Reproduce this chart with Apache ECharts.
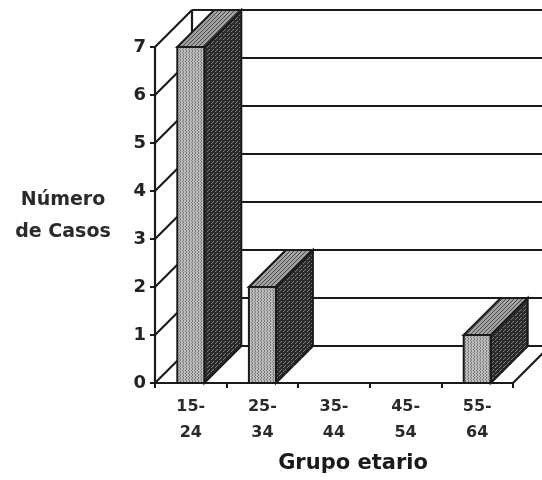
<!DOCTYPE html>
<html>
<head>
<meta charset="utf-8">
<script src="https://cdn.jsdelivr.net/npm/echarts@6/dist/echarts.min.js"></script>
<style>
  html, body { margin: 0; padding: 0; background: #ffffff; }
  #chart { width: 542px; height: 480px; }
</style>
</head>
<body>
<div id="chart"></div>
<script>
// Age groups and number of cases per group
const categories = ['15-\n24', '25-\n34', '35-\n44', '45-\n54', '55-\n64'];
const casos = [7, 2, 0, 0, 1];
const yTicks = [0, 1, 2, 3, 4, 5, 6, 7];

const DEPTH = 37;        // oblique depth of the 3D box (px)
const BAR_W = 27;        // front face width of each bar (px)
const INK = '#1a1a1a';
const FONT = 'DejaVu Sans';

// small stipple fills for the bar faces
function stipple(bg, fg, size, pts) {
  const c = document.createElement('canvas');
  c.width = c.height = size;
  const g = c.getContext('2d');
  g.fillStyle = bg;
  g.fillRect(0, 0, size, size);
  g.fillStyle = fg;
  pts.forEach(p => g.fillRect(p[0], p[1], 1, 1));
  return { image: c, repeat: 'repeat' };
}
const frontFill = stipple('#bdbdbd', '#7c7c7c', 3, [[0, 0], [0, 2], [2, 1]]);
const topFill = stipple('#a2a2a2', '#4a4a4a', 4, [[0, 0], [2, 2], [1, 3], [3, 1]]);
const sideFill = stipple('#2c2c2c', '#7a7a7a', 4, [[1, 1], [3, 3], [0, 2]]);

const chart = echarts.init(document.getElementById('chart'), null, { renderer: 'canvas' });

// back wall, left wall and floor of the 3D frame
function renderFrame(params, api) {
  const cs = params.coordSys;
  const left = cs.x, right = cs.x + cs.width;
  const y0 = api.coord([0, 0])[1];
  const yTop = api.coord([0, yTicks[yTicks.length - 1]])[1];
  const lines = [];
  const seg = (x1, y1, x2, y2) => lines.push({
    type: 'line',
    shape: { x1, y1, x2, y2 },
    style: { stroke: INK, lineWidth: 2.2 }
  });
  yTicks.forEach(v => {
    const y = api.coord([0, v])[1];
    seg(left + DEPTH, y - DEPTH, right + DEPTH, y - DEPTH);   // back wall grid line
    seg(left, y, left + DEPTH, y - DEPTH);                    // left wall diagonal
  });
  seg(left + DEPTH, y0 - DEPTH, left + DEPTH, yTop - DEPTH);  // back wall left edge
  seg(right, y0, right + DEPTH, y0 - DEPTH);                  // floor right edge
  return { type: 'group', children: lines };
}

// oblique 3D bar: dark side, top face and light front face
function renderBar(params, api) {
  const v = api.value(1);
  if (!v) return null;
  const top = api.coord([api.value(0), v]);
  const base = api.coord([api.value(0), 0]);
  const x0 = top[0] - BAR_W / 2, x1 = top[0] + BAR_W / 2;
  const yT = top[1], yB = base[1];
  const edge = { stroke: INK, lineWidth: 2, lineJoin: 'miter' };
  return {
    type: 'group',
    children: [
      {
        type: 'polygon',
        shape: { points: [[x1, yB], [x1 + DEPTH, yB - DEPTH], [x1 + DEPTH, yT - DEPTH], [x1, yT]] },
        style: Object.assign({ fill: sideFill }, edge)
      },
      {
        type: 'polygon',
        shape: { points: [[x0, yT], [x0 + DEPTH, yT - DEPTH], [x1 + DEPTH, yT - DEPTH], [x1, yT]] },
        style: Object.assign({ fill: topFill }, edge)
      },
      {
        type: 'rect',
        shape: { x: x0, y: yT, width: BAR_W, height: yB - yT },
        style: Object.assign({ fill: frontFill }, edge)
      }
    ]
  };
}

chart.setOption({
  backgroundColor: '#ffffff',
  animation: false,
  grid: { left: 155, right: 29, top: 47, bottom: 97, containLabel: false, outerBoundsMode: 'none' },
  xAxis: {
    type: 'category',
    data: categories,
    boundaryGap: true,
    axisLine: { show: true, lineStyle: { color: INK, width: 2.2 } },
    axisTick: { show: true, length: 5, lineStyle: { color: INK, width: 2 } },
    axisLabel: {
      color: '#2a2a2a', fontFamily: FONT, fontWeight: 'bold',
      fontSize: 16, lineHeight: 26, margin: 11
    },
    splitLine: { show: false }
  },
  yAxis: {
    type: 'value',
    min: 0, max: 7, interval: 1,
    axisLine: { show: true, lineStyle: { color: INK, width: 2.2 } },
    axisTick: { show: true, length: 5, lineStyle: { color: INK, width: 2 } },
    axisLabel: {
      color: '#222222', fontFamily: FONT, fontWeight: 'bold',
      fontSize: 18, margin: 9
    },
    splitLine: { show: false }
  },
  graphic: [
    {
      type: 'text', z: 10, x: 63, y: 216,
      style: {
        text: 'Número\nde Casos', x: 0, y: 0,
        fill: '#2a2a2a', font: 'bold 19px "DejaVu Sans"',
        lineHeight: 32, align: 'center', verticalAlign: 'middle'
      }
    },
    {
      type: 'text', z: 10, x: 353, y: 464,
      style: {
        text: 'Grupo etario', x: 0, y: 0,
        fill: '#1a1a1a', font: 'bold 21px "DejaVu Sans"',
        align: 'center', verticalAlign: 'middle'
      }
    }
  ],
  series: [
    {
      type: 'custom',
      name: 'marco',
      data: [[0, 0]],
      renderItem: renderFrame,
      silent: true,
      z: 1
    },
    {
      type: 'custom',
      name: 'Número de Casos',
      data: casos.map((v, i) => [i, v]),
      encode: { x: 0, y: 1 },
      renderItem: renderBar,
      z: 3
    }
  ]
});
</script>
</body>
</html>
